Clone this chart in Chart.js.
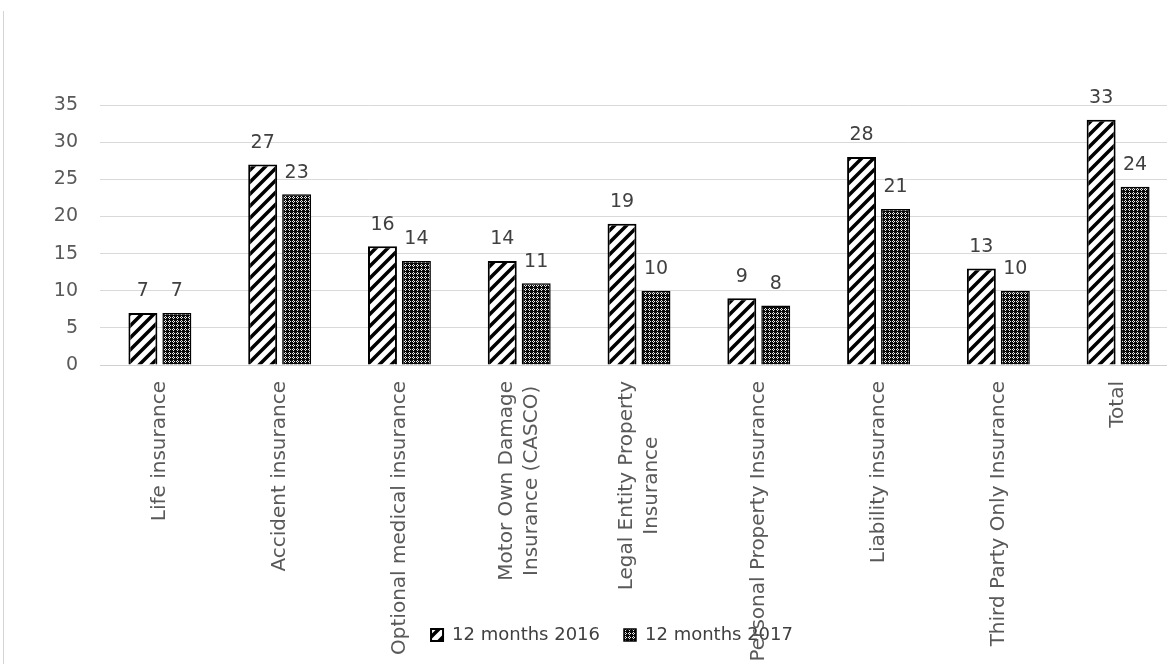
<!DOCTYPE html>
<html>
<head>
<meta charset="utf-8">
<script src="https://cdn.jsdelivr.net/npm/chart.js@4/dist/chart.umd.min.js"></script>
<style>
  html, body { margin: 0; padding: 0; background: #fff; overflow: hidden; }
  #frame { position: absolute; left: 3px; top: 11px; width: 1px; height: 660px; background: #d4d4d4; }
  #wrap { position: absolute; left: 0; top: 0; width: 1178px; height: 664px; }
</style>
</head>
<body>
<div id="frame"></div>
<div id="wrap"><canvas id="chart"></canvas></div>
<script>
const categories = [
  "Life insurance",
  "Accident insurance",
  "Optional medical insurance",
  ["Motor Own Damage", "Insurance (CASCO)"],
  ["Legal Entity Property", "Insurance"],
  "Personal Property Insurance",
  "Liability insurance",
  "Third Party Only Insurance",
  "Total"
];
const months2016 = [7, 27, 16, 14, 19, 9, 28, 13, 33];
const months2017 = [7, 23, 14, 11, 10, 8, 21, 10, 24];
const yTicks = [0, 5, 10, 15, 20, 25, 30, 35];

// hatch fills like the excel patterns
function stripePattern() {
  const c = document.createElement("canvas");
  c.width = 12; c.height = 12;
  const g = c.getContext("2d");
  g.fillStyle = "#fff";
  g.fillRect(0, 0, 12, 12);
  g.strokeStyle = "#000";
  g.lineWidth = 3.5;
  g.beginPath();
  g.moveTo(-3, 15); g.lineTo(15, -3);
  g.moveTo(-9, 9); g.lineTo(9, -9);
  g.moveTo(3, 21); g.lineTo(21, 3);
  g.stroke();
  return g.createPattern(c, "repeat");
}
function checkPattern() {
  const c = document.createElement("canvas");
  c.width = 4; c.height = 4;
  const g = c.getContext("2d");
  g.fillStyle = "#0a0a0a";
  g.fillRect(0, 0, 4, 4);
  g.fillStyle = "#eee";
  g.fillRect(1, 0, 1, 1);
  g.fillRect(0, 1, 1, 1);
  g.fillRect(2, 1, 1, 1);
  g.fillRect(1, 2, 1, 1);
  return g.createPattern(c, "repeat");
}

const valueLabels = {
  id: "valueLabels",
  afterDatasetsDraw(chart) {
    const ctx = chart.ctx;
    ctx.save();
    ctx.fillStyle = "#404040";
    ctx.font = "19px 'DejaVu Sans'";
    ctx.textAlign = "center";
    ctx.textBaseline = "bottom";
    chart.data.datasets.forEach((ds, i) => {
      chart.getDatasetMeta(i).data.forEach((bar, j) => {
        ctx.fillText(ds.data[j], bar.x, bar.y - 12);
      });
    });
    ctx.restore();
  }
};

// vertical category labels, lines centred like excel does
const categoryLabels = {
  id: "categoryLabels",
  afterDraw(chart) {
    const ctx = chart.ctx;
    const xs = chart.scales.x;
    const top = chart.chartArea.bottom + 16;
    const lh = 25;
    ctx.save();
    ctx.fillStyle = "#595959";
    ctx.font = "20px 'DejaVu Sans'";
    ctx.textAlign = "center";
    ctx.textBaseline = "middle";
    categories.forEach((cat, i) => {
      const lines = Array.isArray(cat) ? cat : [cat];
      const w = Math.max(...lines.map(l => ctx.measureText(l).width));
      const cx = xs.getPixelForValue(i);
      lines.forEach((line, k) => {
        ctx.save();
        ctx.translate(cx + (k - (lines.length - 1) / 2) * lh, top + w / 2);
        ctx.rotate(-Math.PI / 2);
        ctx.fillText(line, 0, 0);
        ctx.restore();
      });
    });
    ctx.restore();
  }
};

new Chart(document.getElementById("chart"), {
  type: "bar",
  data: {
    labels: categories,
    datasets: [
      {
        label: "12 months 2016",
        data: months2016,
        backgroundColor: stripePattern(),
        borderColor: "#000",
        borderWidth: 2,
        categoryPercentage: 0.567,
        barPercentage: 0.853
      },
      {
        label: "12 months 2017",
        data: months2017,
        backgroundColor: checkPattern(),
        borderColor: "#000",
        borderWidth: 1.5,
        categoryPercentage: 0.567,
        barPercentage: 0.853
      }
    ]
  },
  options: {
    responsive: true,
    maintainAspectRatio: false,
    animation: false,
    layout: { padding: { left: 46, right: 0, top: 105, bottom: 10 } },
    plugins: {
      legend: {
        position: "bottom",
        labels: {
          boxWidth: 12,
          boxHeight: 12,
          padding: 24,
          color: "#404040",
          font: { family: "'DejaVu Sans'", size: 18 }
        }
      },
      tooltip: { enabled: false }
    },
    scales: {
      x: {
        grid: { display: false, drawTicks: false },
        border: { color: "#d0d0d0", width: 1 },
        ticks: { display: false },
        afterFit(scale) { scale.height = 237; }
      },
      y: {
        min: 0,
        max: 35,
        afterBuildTicks(scale) { scale.ticks = yTicks.map(v => ({ value: v })); },
        grid: { color: "#d9d9d9", drawTicks: false },
        border: { display: false },
        ticks: {
          color: "#595959",
          font: { family: "'DejaVu Sans'", size: 19 },
          padding: 22
        },
        afterFit(scale) { scale.width = 54; }
      }
    }
  },
  plugins: [valueLabels, categoryLabels]
});
</script>
</body>
</html>
